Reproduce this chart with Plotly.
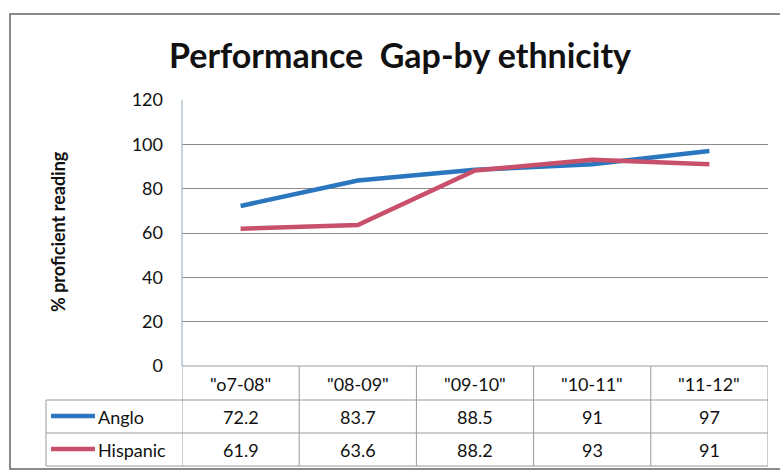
import plotly.graph_objects as go

categories = ['"o7-08"', '"08-09"', '"09-10"', '"10-11"', '"11-12"']
anglo = [72.2, 83.7, 88.5, 91, 97]
hispanic = [61.9, 63.6, 88.2, 93, 91]
anglo_labels = ["72.2", "83.7", "88.5", "91", "97"]
hispanic_labels = ["61.9", "63.6", "88.2", "93", "91"]
series_names = ["Anglo", "Hispanic"]
series_colors = ["#2b77bf", "#c9506a"]
y_ticks = [0, 20, 40, 60, 80, 100, 120]

W, H = 780, 474
L, R, T, B = 182, 12, 100, 108
PW, PH = W - L - R, H - T - B

def px_x(px):
    return (px - L) / PW

def px_y(py):
    return (H - B - py) / PH

FONT = "Lato, Calibri, Carlito, sans-serif"
TXT = "#111111"
GRID = "#8a8a8a"

fig = go.Figure()
for name, vals, col in zip(series_names, [anglo, hispanic], series_colors):
    fig.add_trace(go.Scatter(x=categories, y=vals, mode="lines", name=name,
                             line=dict(color=col, width=4.5), showlegend=False))

shapes = []
annotations = []

table_line = dict(color="#9a9a9a", width=1)
row_bounds = [366, 400, 433, 466]
shapes.append(dict(type="line", xref="paper", yref="paper", x0=0, x1=1,
                   y0=px_y(366), y1=px_y(366), line=table_line))
for py in row_bounds[1:]:
    shapes.append(dict(type="line", xref="paper", yref="paper", x0=px_x(46), x1=1,
                       y0=px_y(py), y1=px_y(py), line=table_line))
n = len(categories)
for i in range(n + 1):
    shapes.append(dict(type="line", xref="x", yref="paper", x0=i - 0.5, x1=i - 0.5,
                       y0=px_y(366), y1=px_y(466), line=table_line))
shapes.append(dict(type="line", xref="paper", yref="paper", x0=px_x(46), x1=px_x(46),
                   y0=px_y(400), y1=px_y(466), line=table_line))

# y axis line
shapes.append(dict(type="line", xref="paper", yref="paper", x0=0, x1=0,
                   y0=0, y1=1, line=dict(color="#9fb8c4", width=1.2)))

# outer chart border
shapes.append(dict(type="rect", xref="paper", yref="paper",
                   x0=px_x(10), x1=px_x(792), y0=px_y(469), y1=px_y(14),
                   line=dict(color="#666666", width=1.5)))

for c in categories:
    annotations.append(dict(x=c, xref="x", y=px_y(384), yref="paper", text=c,
                            xanchor="center", yanchor="middle",
                            showarrow=False, font=dict(family=FONT, size=18, color=TXT)))
row_centers = [417, 450]
for (name, labels, col, cy) in zip(series_names, [anglo_labels, hispanic_labels],
                                   series_colors, row_centers):
    for c, lab in zip(categories, labels):
        annotations.append(dict(x=c, xref="x", y=px_y(cy), yref="paper", text=lab,
                                xanchor="center", yanchor="middle",
                                showarrow=False, font=dict(family=FONT, size=18, color=TXT)))
    shapes.append(dict(type="line", xref="paper", yref="paper", x0=px_x(51), x1=px_x(95),
                       y0=px_y(cy - 1), y1=px_y(cy - 1), line=dict(color=col, width=4.5)))
    annotations.append(dict(x=px_x(96), xref="paper", y=px_y(cy), yref="paper", text=name,
                            xanchor="left", yanchor="middle", showarrow=False,
                            font=dict(family=FONT, size=18, color=TXT)))

annotations.append(dict(x=px_x(58), xref="paper", y=px_y(232), yref="paper",
                        text="<b>% proficient reading</b>", textangle=-90, showarrow=False,
                        xanchor="center", yanchor="middle",
                        font=dict(family=FONT, size=18, color=TXT)))

fig.update_layout(
    width=W, height=H,
    margin=dict(l=L, r=R, t=T, b=B),
    paper_bgcolor="white", plot_bgcolor="white",
    title=dict(text="<b>Performance  Gap-by ethnicity</b>", x=400 / W, xanchor="center",
               y=1 - 56 / H, yanchor="middle", yref="container",
               font=dict(family=FONT, size=34, color=TXT)),
    xaxis=dict(type="category", categoryorder="array", categoryarray=categories,
               range=[-0.5, n - 0.5], showticklabels=False, showgrid=False,
               zeroline=False, showline=False),
    yaxis=dict(range=[0, 120], tickvals=y_ticks, showgrid=True, gridcolor=GRID, gridwidth=1,
               zeroline=False, showline=False, ticks="", ticklabelstandoff=18,
               tickfont=dict(family=FONT, size=18, color=TXT)),
    shapes=shapes, annotations=annotations,
)

fig.write_html("out.html", config={"displayModeBar": False},
               post_script="document.body.style.margin='0';document.body.style.padding='0';")
